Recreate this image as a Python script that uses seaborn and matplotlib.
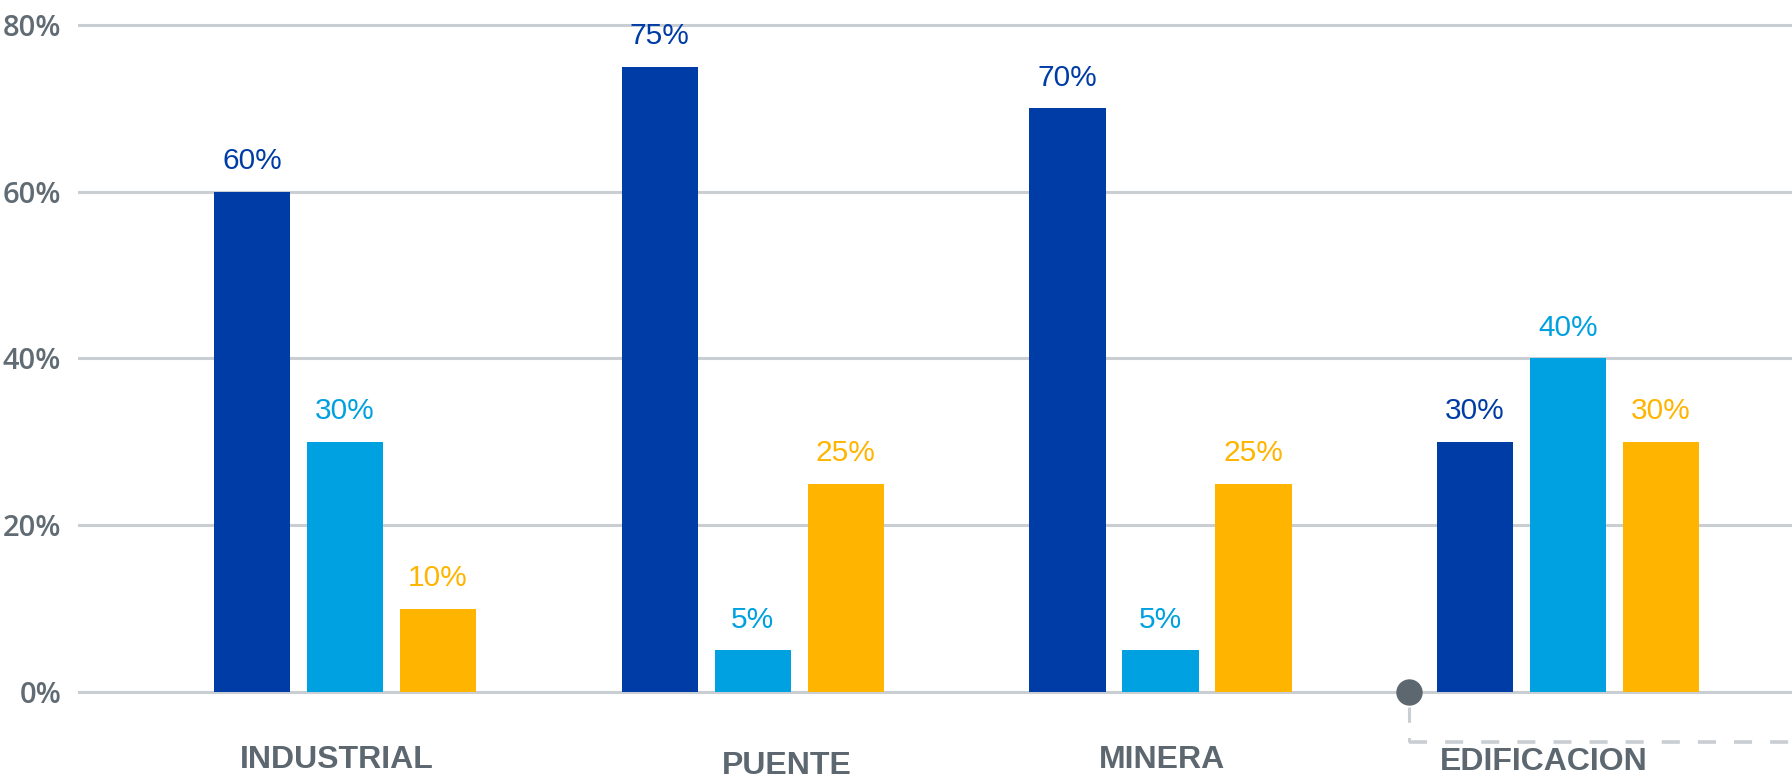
import matplotlib
matplotlib.use("Agg")
import matplotlib.pyplot as plt
import seaborn as sns
import pandas as pd

# Chart data
categories = ["INDUSTRIAL", "PUENTE", "MINERA", "EDIFICACION"]
series = ["Serie 1", "Serie 2", "Serie 3"]
serie_1 = [60, 75, 70, 30]
serie_2 = [30, 5, 5, 40]
serie_3 = [10, 25, 25, 30]
y_ticks = [0, 20, 40, 60, 80]

colors = ["#003CA6", "#00A1E0", "#FFB400"]
grey_text = "#5C6770"
grid_col = "#C9CED3"

df = pd.DataFrame({
    "categoria": categories * 3,
    "serie": [series[0]] * 4 + [series[1]] * 4 + [series[2]] * 4,
    "valor": serie_1 + serie_2 + serie_3,
})

sns.set_theme(style="white")
plt.rcParams["font.family"] = ["Liberation Sans", "DejaVu Sans"]

fig = plt.figure(figsize=(17.92, 7.81), dpi=100)
ax = fig.add_axes([0.0435, 0.0072, 0.9565, 0.9822])

sns.barplot(data=df, x="categoria", y="valor", hue="serie",
            order=categories, hue_order=series, palette=colors,
            width=0.684, gap=0.18, saturation=1, legend=False,
            linewidth=0, edgecolor="none", ax=ax)

ax.set_xlim(-0.655, 3.549)
ax.set_ylim(-10, 82)
ax.set_yticks(y_ticks)
ax.set_yticklabels([f"{t}%" for t in y_ticks], fontsize=21,
                   fontweight=600, color="#606B73",
                   family=["Open Sans", "DejaVu Sans"])
ax.tick_params(axis="y", left=False, length=0, pad=12)
ax.tick_params(axis="x", bottom=False, length=0)
ax.set_xticks([])
ax.set_xlabel("")
ax.set_ylabel("")
for s in ax.spines.values():
    s.set_visible(False)

# Horizontal guide lines
for t in y_ticks:
    ax.axhline(t, color=grid_col, lw=2.2, zorder=0)

# Value labels above each bar
for cont, col, vals in zip(ax.containers, colors, [serie_1, serie_2, serie_3]):
    ax.bar_label(cont, labels=[f"{v}%" for v in vals], padding=12,
                 fontsize=21.5, color=col)

# Category names under the baseline
name_dx = [-0.02, 0.083, 0.005, -0.059]
name_y = [-8.2, -8.9, -8.2, -8.4]
for i, (cat, dx, yy) in enumerate(zip(categories, name_dx, name_y)):
    ax.text(i + dx, yy, cat, ha="center", va="center", fontsize=23,
            fontweight="bold", color=grey_text, clip_on=False)

# Marker and dashed connector near the last group
mx = 3 - 0.39
ax.plot([mx, mx], [-1.8, -6.0], color=grid_col, lw=2.2, ls=(0, (5, 5)),
        zorder=1, solid_capstyle="butt")
ax.plot([mx, 3.549], [-6.0, -6.0], color=grid_col, lw=2.6, ls=(0, (5, 5)),
        zorder=1, clip_on=False)
ax.plot([mx], [0], marker="o", markersize=19, color="#5C6770",
        markeredgewidth=0, zorder=5, clip_on=False)

fig.savefig("out.png", dpi=100)
